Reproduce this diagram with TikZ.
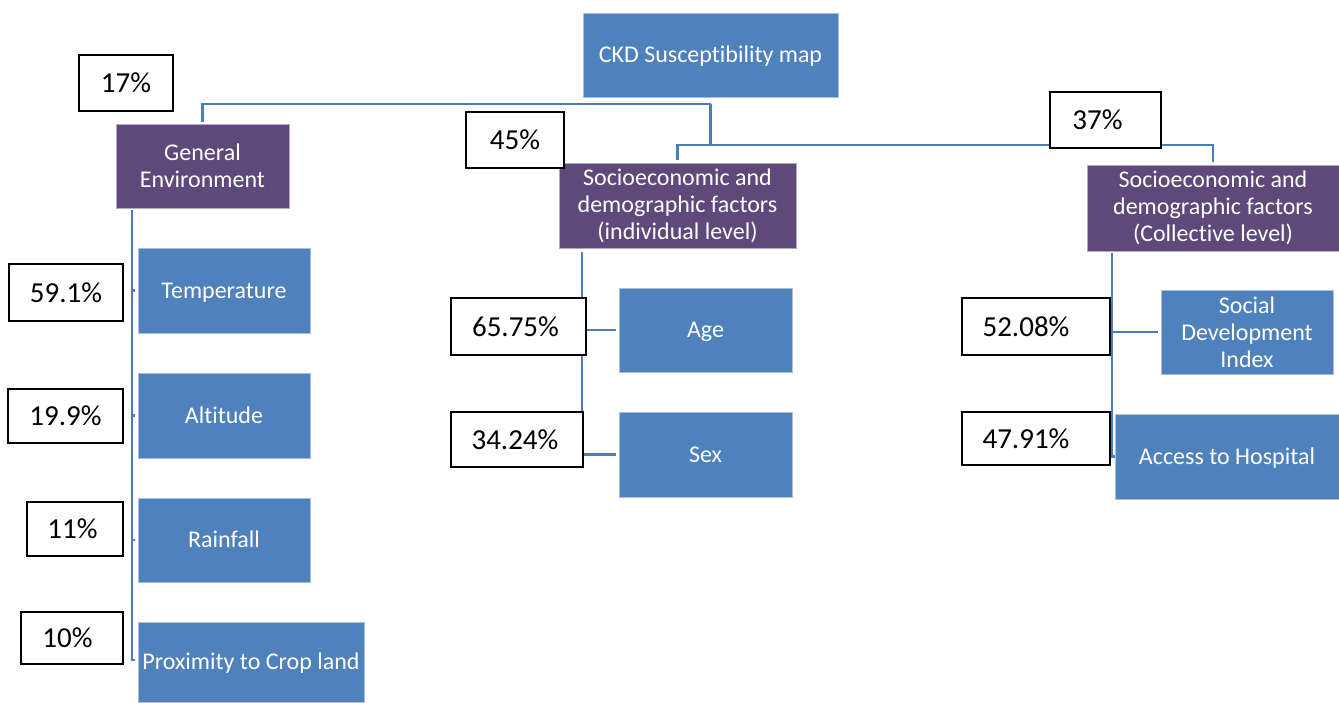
\documentclass[tikz,border=0pt]{standalone}
\usepackage{fontspec}
\setmainfont{Carlito}[Ligatures={NoCommon,NoRequired,NoContextual}]
\usetikzlibrary{backgrounds}
\definecolor{nodeblue}{HTML}{4F81BD}
\definecolor{nodepurple}{HTML}{5F497A}
\definecolor{lineblue}{HTML}{4A7EBB}
\definecolor{edgeblue}{HTML}{A9BFDD}
\definecolor{edgepurple}{HTML}{B3A6C6}
\begin{document}
\begin{tikzpicture}[x=1pt,y=-1pt,
  basebox/.style={rectangle, inner sep=0pt, text=white, align=center,
    font=\fontsize{24}{27}\selectfont, line width=0.7pt},
  bluebox/.style={basebox, fill=nodeblue, draw=edgeblue},
  purplebox/.style={basebox, fill=nodepurple, draw=edgepurple},
  oneline/.style={text height=18pt, text depth=2.5pt},
  pctbox/.style={rectangle, inner sep=0pt, fill=white, draw=black, line width=1.8pt,
    font=\fontsize{29}{34}\selectfont},
  conn/.style={draw=lineblue, line width=2.5pt},
  childconn/.style={conn, shorten >=3pt}]
\useasboundingbox (0,0) rectangle (1339,702);

% main nodes
\node[bluebox, oneline, minimum width=255pt, minimum height=84pt] (root) at (710.5,55) {CKD Susceptibility map};
\node[purplebox, minimum width=173pt, minimum height=84pt] (genv) at (202.5,166) {General\\Environment};
\node[purplebox, minimum width=237pt, minimum height=85pt] (indiv) at (677.5,205.5) {Socioeconomic and\\demographic factors\\(individual level)};
\node[purplebox, minimum width=252pt, minimum height=86pt] (coll) at (1213,208) {Socioeconomic and\\demographic factors\\(Collective level)};

\node[bluebox, oneline, minimum width=172pt, minimum height=85pt] (temp) at (224,290.5) {Temperature};
\node[bluebox, oneline, minimum width=172pt, minimum height=85pt] (alt) at (224,415.5) {Altitude};
\node[bluebox, oneline, minimum width=172pt, minimum height=84pt] (rain) at (224,540) {Rainfall};
\node[bluebox, oneline, minimum width=226pt, minimum height=80pt] (prox) at (251,662) {Proximity to Crop land};

\node[bluebox, oneline, minimum width=173pt, minimum height=84pt] (age) at (705.5,330) {Age};
\node[bluebox, oneline, minimum width=173pt, minimum height=85pt] (sex) at (705.5,454.5) {Sex};

\node[bluebox, minimum width=172pt, minimum height=84pt] (sdi) at (1247,332) {Social\\Development\\Index};
\node[bluebox, oneline, minimum width=224pt, minimum height=85pt] (acc) at (1227,456.5) {Access to Hospital};

% junction coordinates
\coordinate (j1) at (710.5,104);
\coordinate (j2) at (710.5,145);
\coordinate (gtop) at (132,210);
\coordinate (mtop) at (582,252);
\coordinate (rtop) at (1112,253);

% connectors
\begin{scope}[on background layer]
\draw[conn, shorten >=2pt] (j1) -| (genv);
\draw[conn, shorten >=3pt] (j1) -- (j2) -| (indiv);
\draw[conn, shorten >=3pt] (j2) -| (coll);
\draw[childconn] (gtop) |- (temp.west);
\draw[childconn] (gtop) |- (alt.west);
\draw[childconn] (gtop) |- (rain.west);
\draw[childconn] (gtop) |- ([yshift=2pt]prox.west);
\draw[childconn] (mtop) |- (age.west);
\draw[childconn] (mtop) |- (sex.west);
\draw[childconn] (rtop) |- (sdi.west);
\draw[conn] (rtop) |- (acc.west);
\end{scope}

% percentage boxes
\node[pctbox, minimum width=94pt, minimum height=56pt] (p17) at (126,83) {17\%};
\node[pctbox, minimum width=98pt, minimum height=56pt] (p45) at (515,140) {45\%};
\node[pctbox, minimum width=111pt, minimum height=56pt] (p37) at (1105.5,120) {\hspace*{-16pt}37\%};
\node[pctbox, minimum width=114pt, minimum height=57pt] (p591) at (66,292.5) {59.1\%};
\node[pctbox, minimum width=115pt, minimum height=54pt] (p199) at (65.5,416) {19.9\%};
\node[pctbox, minimum width=96pt, minimum height=54pt] (p11) at (75,529) {\hspace*{-5pt}11\%};
\node[pctbox, minimum width=102pt, minimum height=52pt] (p10) at (72,638) {\hspace*{-9pt}10\%};
\node[pctbox, minimum width=135pt, minimum height=57pt] (p6575) at (518.5,326.5) {\hspace*{-6pt}65.75\%};
\node[pctbox, minimum width=132pt, minimum height=55pt] (p3424) at (517,439.5) {\hspace*{-4pt}34.24\%};
\node[pctbox, minimum width=148pt, minimum height=57pt] (p5208) at (1036,326.5) {\hspace*{-20pt}52.08\%};
\node[pctbox, minimum width=148pt, minimum height=53pt] (p4791) at (1036,438.5) {\hspace*{-20pt}47.91\%};
\end{tikzpicture}
\end{document}
